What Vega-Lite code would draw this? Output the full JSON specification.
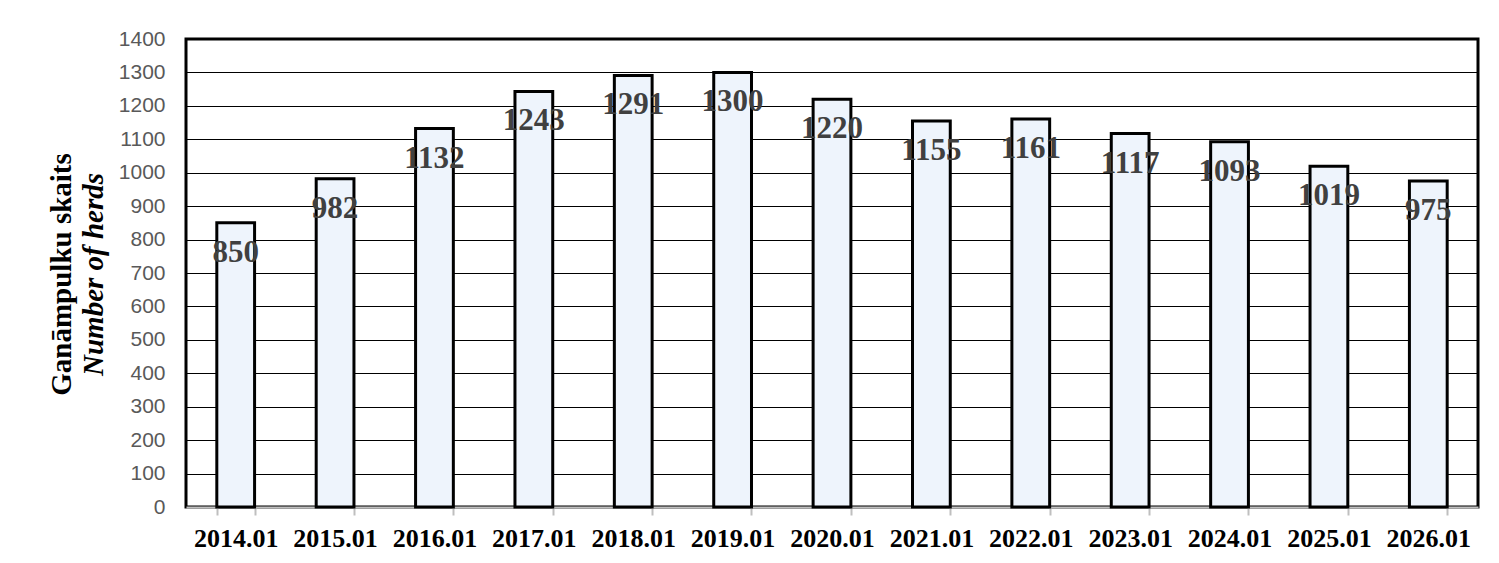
{
  "$schema": "https://vega.github.io/schema/vega-lite/v6.json",
  "autosize": {"type": "none"},
  "padding": {"left": 186, "top": 39, "right": 21, "bottom": 56},
  "width": 1292,
  "height": 468,
  "background": "white",
  "config": {
    "view": {"stroke": "#000000", "strokeWidth": 3}
  },
  "data": {
    "values": [
      {"date": "2014.01", "herds": 850},
      {"date": "2015.01", "herds": 982},
      {"date": "2016.01", "herds": 1132},
      {"date": "2017.01", "herds": 1243},
      {"date": "2018.01", "herds": 1291},
      {"date": "2019.01", "herds": 1300},
      {"date": "2020.01", "herds": 1220},
      {"date": "2021.01", "herds": 1155},
      {"date": "2022.01", "herds": 1161},
      {"date": "2023.01", "herds": 1117},
      {"date": "2024.01", "herds": 1093},
      {"date": "2025.01", "herds": 1019},
      {"date": "2026.01", "herds": 975}
    ]
  },
  "encoding": {
    "x": {
      "field": "date",
      "type": "nominal",
      "sort": null,
      "scale": {"paddingInner": 0.62, "paddingOuter": 0.31},
      "axis": {
        "title": null,
        "labelAngle": 0,
        "labelFont": "Liberation Serif",
        "labelFontWeight": "bold",
        "labelFontSize": 26,
        "labelColor": "#000000",
        "labelPadding": 10,
        "tickBand": "extent",
        "tickColor": "#bfbfbf",
        "tickSize": 8,
        "tickWidth": 2,
        "domainColor": "#bfbfbf",
        "domainWidth": 2
      }
    }
  },
  "layer": [
    {
      "mark": {"type": "bar", "fill": "#eef4fc", "stroke": "#000000", "strokeWidth": 3},
      "encoding": {
        "y": {
          "field": "herds",
          "type": "quantitative",
          "scale": {"domain": [0, 1400], "nice": false},
          "axis": {
            "orient": "left",
            "values": [0, 100, 200, 300, 400, 500, 600, 700, 800, 900, 1000, 1100, 1200, 1300, 1400],
            "format": "d",
            "grid": true,
            "gridColor": "#000000",
            "gridWidth": 1.2,
            "gridOpacity": 1,
            "ticks": false,
            "domain": false,
            "labelFont": "Liberation Sans",
            "labelFontSize": 21,
            "labelColor": "#595959",
            "labelPadding": 21,
            "title": "Number of herds",
            "titleFont": "Liberation Serif",
            "titleFontWeight": "bold",
            "titleFontStyle": "italic",
            "titleFontSize": 29,
            "titleColor": "#000000",
            "titleAngle": -90,
            "titleAlign": "center",
            "titleBaseline": "middle",
            "titleX": -93,
            "titleY": 235
          }
        }
      }
    },
    {
      "mark": {
        "type": "text",
        "font": "Liberation Serif",
        "fontWeight": "bold",
        "fontSize": 31,
        "color": "#404040",
        "baseline": "middle",
        "dy": 30
      },
      "encoding": {
        "y": {
          "field": "herds",
          "type": "quantitative",
          "scale": {"domain": [0, 1400], "nice": false},
          "axis": {
            "orient": "left",
            "grid": false,
            "ticks": false,
            "labels": false,
            "domain": false,
            "title": "Ganāmpulku skaits",
            "titleFont": "Liberation Serif",
            "titleFontWeight": "bold",
            "titleFontSize": 29,
            "titleColor": "#000000",
            "titleAngle": -90,
            "titleAlign": "center",
            "titleBaseline": "middle",
            "titleX": -125,
            "titleY": 235
          }
        },
        "text": {"field": "herds", "type": "quantitative"}
      }
    }
  ],
  "resolve": {"axis": {"y": "independent"}}
}
